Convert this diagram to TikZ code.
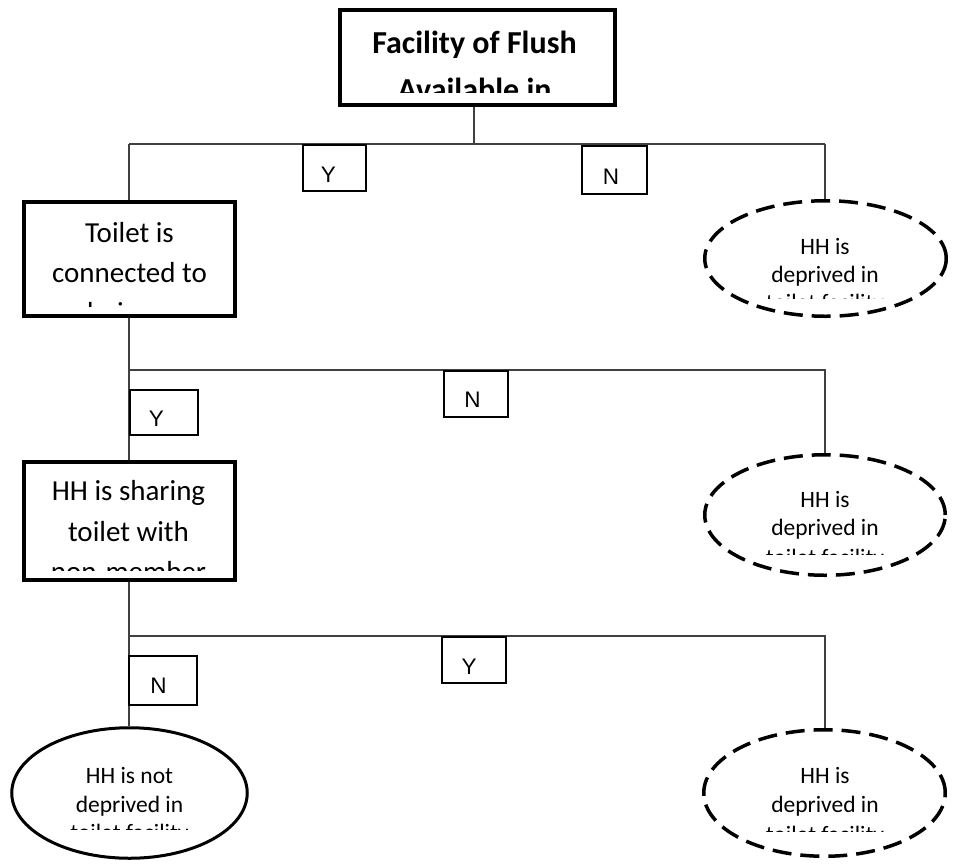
\documentclass[tikz,border=0pt]{standalone}
\usepackage{fontspec}
\setmainfont{Carlito}
\newfontfamily\ynfont{Liberation Sans}
\usetikzlibrary{shapes.geometric}
\tikzset{
  conn/.style={draw=black!75, line width=1.1pt},
  mainbox/.style={draw=black, line width=4pt, rectangle, inner sep=0pt},
  ynbox/.style={draw=black, line width=2pt, rectangle, inner sep=0pt},
  outcome/.style={draw=black, ellipse, line width=3.5pt, dash pattern=on 19pt off 9pt, inner sep=0pt},
  okoutcome/.style={draw=black, ellipse, line width=3pt, inner sep=0pt},
  boxtxt/.style={anchor=base, inner sep=0pt, font=\fontsize{29}{35}\selectfont},
  titletxt/.style={anchor=base, inner sep=0pt, font=\fontsize{32}{38}\selectfont\bfseries},
  elltxt/.style={anchor=base, inner sep=0pt, font=\fontsize{23.5}{28}\selectfont},
  yntxt/.style={anchor=base, inner sep=0pt, font=\ynfont\fontsize{22.5}{27}\selectfont},
}
\begin{document}
\begin{tikzpicture}[x=1pt,y=-1pt]
\useasboundingbox (0,0) rectangle (954,863);

% shapes
\node[mainbox, minimum width=275pt, minimum height=95pt] (top) at (477.5,57.5) {};
\node[mainbox, minimum width=211pt, minimum height=114pt] (toilet) at (129.5,259) {};
\node[mainbox, minimum width=211pt, minimum height=118pt] (share) at (129.5,521) {};
\node[outcome, minimum width=241.5pt, minimum height=115.5pt] (e1) at (825.5,258.5) {};
\node[outcome, minimum width=240.5pt, minimum height=120.5pt] (e2) at (825,515) {};
\node[outcome, minimum width=241.5pt, minimum height=126.5pt] (e3) at (824.5,793) {};
\node[okoutcome, minimum width=235.5pt, minimum height=130.5pt] (ok) at (129.5,793) {};

% junctions
\coordinate (j1) at (474,144);
\coordinate (l1) at (129,144);
\coordinate (r1) at (825,144);
\coordinate (l2) at (129,370);
\coordinate (r2) at (825,370);
\coordinate (l3) at (129,636);
\coordinate (r3) at (825,636);

% connectors
\draw[conn] (top.south -| j1) -- (j1);
\draw[conn] (l1) -- (r1);
\draw[conn] (l1) -- (toilet.north -| l1);
\draw[conn] (r1) -- (e1.north -| r1);
\draw[conn] (toilet.south -| l2) -- (l2) -- (r2) -- (e2.north -| r2);
\draw[conn] (l2) -- (share.north -| l2);
\draw[conn] (share.south -| l3) -- (l3) -- (r3) -- (e3.north -| r3);
\draw[conn] (l3) -- (ok.north -| l3);

% Y / N boxes
\node[ynbox, fill=white, minimum width=63pt, minimum height=46pt] (y1) at (334.5,168) {};
\node[ynbox, fill=white, minimum width=65pt, minimum height=48pt] (n1) at (614.5,170) {};
\node[ynbox, fill=white, minimum width=64pt, minimum height=46pt] (n2) at (476,394) {};
\node[ynbox, fill=white, minimum width=68pt, minimum height=45pt] (y2) at (164,412.5) {};
\node[ynbox, fill=white, minimum width=64pt, minimum height=46pt] (y3) at (474,660) {};
\node[ynbox, fill=white, minimum width=68pt, minimum height=49pt] (n3) at (163,680.5) {};
\node[yntxt] (y1t) at (328.5,182) {Y};
\node[yntxt] (n1t) at (611,184) {N};
\node[yntxt] (n2t) at (472.5,407) {N};
\node[yntxt] (y2t) at (156.5,426) {Y};
\node[yntxt] (y3t) at (469,674) {Y};
\node[yntxt] (n3t) at (158.5,693) {N};

% clipped texts
\begin{scope}
\clip (340,10) rectangle (615,92);
\node[titletxt] (t1) at (474.5,53) {Facility of Flush};
\node[titletxt] (t2) at (474.5,100) {Available in};
\end{scope}
\begin{scope}
\clip (24,202) rectangle (235,306);
\node[boxtxt] (c1) at (129.5,242) {Toilet is};
\node[boxtxt] (c2) at (129.5,282) {connected to};
\node[boxtxt] (c3) at (129.5,322) {drainage};
\end{scope}
\begin{scope}
\clip (24,462) rectangle (235,570);
\node[boxtxt] (s1) at (128.5,500) {HH is sharing};
\node[boxtxt] (s2) at (128.5,541) {toilet with};
\node[boxtxt] (s3) at (128.5,581.5) {non-member};
\end{scope}
\begin{scope}
\clip (705,200) rectangle (946,298);
\node[elltxt] (a1) at (825,254) {HH is};
\node[elltxt] (a2) at (825,282) {deprived in};
\node[elltxt] (a3) at (825,310) {toilet facility};
\end{scope}
\begin{scope}
\clip (705,455) rectangle (946,554);
\node[elltxt] (b1) at (825,507) {HH is};
\node[elltxt] (b2) at (825,535) {deprived in};
\node[elltxt] (b3) at (825,565) {toilet facility};
\end{scope}
\begin{scope}
\clip (705,730) rectangle (946,831);
\node[elltxt] (d1) at (825,783) {HH is};
\node[elltxt] (d2) at (825,812) {deprived in};
\node[elltxt] (d3) at (825,842) {toilet facility};
\end{scope}
\begin{scope}
\clip (12,728) rectangle (247,829);
\node[elltxt] (o1) at (129.5,783) {HH is not};
\node[elltxt] (o2) at (129.5,812) {deprived in};
\node[elltxt] (o3) at (129.5,840) {toilet facility};
\end{scope}
\end{tikzpicture}
\end{document}
